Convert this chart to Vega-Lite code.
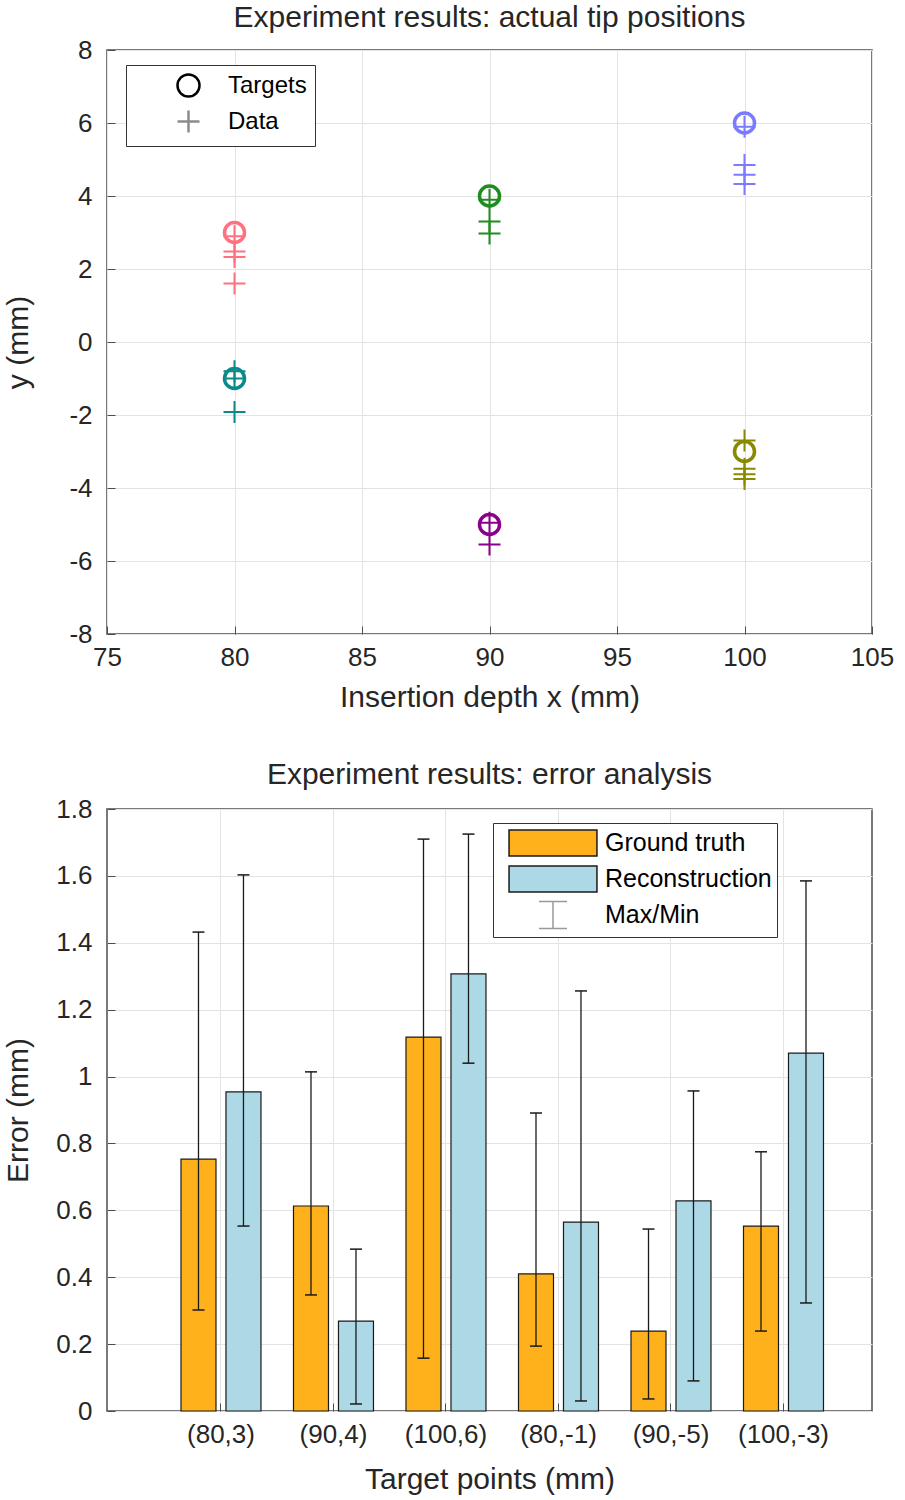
{
  "$schema": "https://vega.github.io/schema/vega-lite/v6.json",
  "background": "white",
  "padding": {"left": 3, "top": 2, "right": 5, "bottom": 5},
  "spacing": 46,
  "resolve": {
    "scale": {"shape": "independent", "stroke": "independent", "fill": "independent", "color": "independent"},
    "legend": {"shape": "independent", "stroke": "independent", "fill": "independent"}
  },
  "config": {
    "font": "Liberation Sans",
    "view": {"stroke": "#4d4d4d", "strokeWidth": 1.5},
    "axis": {
      "labelFont": "Liberation Sans",
      "labelFontSize": 26,
      "labelColor": "#262626",
      "titleFont": "Liberation Sans",
      "titleFontSize": 30,
      "titleFontWeight": "normal",
      "titleColor": "#262626",
      "gridColor": "#e3e3e3",
      "gridWidth": 1,
      "domain": false,
      "tickColor": "#4d4d4d",
      "tickSize": -8,
      "labelPadding": 18,
      "labelFlush": false,
      "labelOverlap": false
    },
    "axisY": {"labelPadding": 23},
    "title": {"font": "Liberation Sans", "fontSize": 30, "fontWeight": "normal", "color": "#262626"},
    "legend": {"labelFont": "Liberation Sans", "labelColor": "#000000", "strokeColor": "#333333", "fillColor": "#ffffff", "labelLimit": 400, "symbolOpacity": 1}
  },
  "vconcat": [
    {
      "title": {"text": "Experiment results: actual tip positions", "offset": 4},
      "width": 765,
      "height": 584,
      "data": {
        "values": [
          {"kind": "Targets", "target": "(80,3)", "x": 80, "y": 3},
          {"kind": "Targets", "target": "(90,4)", "x": 90, "y": 4},
          {"kind": "Targets", "target": "(100,6)", "x": 100, "y": 6},
          {"kind": "Targets", "target": "(80,-1)", "x": 80, "y": -1},
          {"kind": "Targets", "target": "(90,-5)", "x": 90, "y": -5},
          {"kind": "Targets", "target": "(100,-3)", "x": 100, "y": -3},
          {"kind": "Data", "target": "(80,3)", "x": 80, "y": 2.9},
          {"kind": "Data", "target": "(80,3)", "x": 80, "y": 2.48},
          {"kind": "Data", "target": "(80,3)", "x": 80, "y": 2.33},
          {"kind": "Data", "target": "(80,3)", "x": 80, "y": 1.6},
          {"kind": "Data", "target": "(90,4)", "x": 90, "y": 3.9},
          {"kind": "Data", "target": "(90,4)", "x": 90, "y": 3.3},
          {"kind": "Data", "target": "(90,4)", "x": 90, "y": 2.97},
          {"kind": "Data", "target": "(100,6)", "x": 100, "y": 5.9},
          {"kind": "Data", "target": "(100,6)", "x": 100, "y": 4.85},
          {"kind": "Data", "target": "(100,6)", "x": 100, "y": 4.58},
          {"kind": "Data", "target": "(100,6)", "x": 100, "y": 4.33},
          {"kind": "Data", "target": "(80,-1)", "x": 80, "y": -0.8},
          {"kind": "Data", "target": "(80,-1)", "x": 80, "y": -1.0},
          {"kind": "Data", "target": "(80,-1)", "x": 80, "y": -1.92},
          {"kind": "Data", "target": "(90,-5)", "x": 90, "y": -4.95},
          {"kind": "Data", "target": "(90,-5)", "x": 90, "y": -5.55},
          {"kind": "Data", "target": "(100,-3)", "x": 100, "y": -2.7},
          {"kind": "Data", "target": "(100,-3)", "x": 100, "y": -3.47},
          {"kind": "Data", "target": "(100,-3)", "x": 100, "y": -3.62},
          {"kind": "Data", "target": "(100,-3)", "x": 100, "y": -3.75}
        ]
      },
      "encoding": {
        "x": {
          "field": "x",
          "type": "quantitative",
          "scale": {"domain": [75, 105], "nice": false, "zero": false},
          "axis": {"title": "Insertion depth x (mm)", "values": [75, 80, 85, 90, 95, 100, 105], "titlePadding": 12}
        },
        "y": {
          "field": "y",
          "type": "quantitative",
          "scale": {"domain": [-8, 8], "nice": false, "zero": false},
          "axis": {"title": "y (mm)", "values": [-8, -6, -4, -2, 0, 2, 4, 6, 8], "labelExpr": "datum.value + ''", "titlePadding": 35}
        }
      },
      "layer": [
        {
          "transform": [{"filter": "datum.kind === 'Data'"}],
          "mark": {"type": "point", "shape": "M-1,0H1M0,-1V1", "filled": false, "strokeWidth": 2, "size": 484, "opacity": 1},
          "encoding": {
            "color": {
              "field": "target",
              "type": "nominal",
              "scale": {
                "domain": ["(80,3)", "(90,4)", "(100,6)", "(80,-1)", "(90,-5)", "(100,-3)"],
                "range": ["#ff7080", "#1e8c1e", "#7b7bff", "#0a8a8a", "#8a008a", "#8a8a00"]
              },
              "legend": null
            }
          }
        },
        {
          "transform": [{"filter": "datum.kind === 'Targets'"}],
          "mark": {"type": "point", "shape": "circle", "filled": false, "strokeWidth": 3.5, "size": 400, "opacity": 1},
          "encoding": {
            "color": {
              "field": "target",
              "type": "nominal",
              "scale": {
                "domain": ["(80,3)", "(90,4)", "(100,6)", "(80,-1)", "(90,-5)", "(100,-3)"],
                "range": ["#ff7080", "#1e8c1e", "#7b7bff", "#0a8a8a", "#8a008a", "#8a8a00"]
              },
              "legend": null
            }
          }
        },
        {
          "mark": {"type": "point", "filled": false, "opacity": 0, "size": 484},
          "encoding": {
            "shape": {
              "field": "kind",
              "type": "nominal",
              "scale": {"domain": ["Targets", "Data"], "range": ["circle", "M-1,0H1M0,-1V1"]},
              "legend": {
                "title": null,
                "orient": "none",
                "legendX": 19,
                "legendY": 15,
                "labelFontSize": 24,
                "labelExpr": "datum.label + '\u00a0\u00a0\u00a0'",
                "padding": 8,
                "symbolSize": 484,
                "symbolOffset": 42,
                "labelOffset": 27,
                "rowPadding": 3,
                "symbolStrokeWidth": 2.5,
                "symbolOpacity": 1
              }
            },
            "stroke": {
              "field": "kind",
              "type": "nominal",
              "scale": {"domain": ["Targets", "Data"], "range": ["#000000", "#8c8c8c"]},
              "legend": {
                "title": null,
                "orient": "none",
                "legendX": 19,
                "legendY": 15,
                "labelFontSize": 24,
                "labelExpr": "datum.label + '\u00a0\u00a0\u00a0'",
                "padding": 8,
                "symbolSize": 484,
                "symbolOffset": 42,
                "labelOffset": 27,
                "rowPadding": 3,
                "symbolStrokeWidth": 2.5,
                "symbolOpacity": 1
              }
            }
          }
        }
      ]
    },
    {
      "title": {"text": "Experiment results: error analysis", "offset": 6},
      "width": 765,
      "height": 602,
      "data": {
        "values": [
          {"target": "(80,3)", "series": "Ground truth", "value": 0.753, "min": 0.302, "max": 1.432},
          {"target": "(90,4)", "series": "Ground truth", "value": 0.613, "min": 0.347, "max": 1.014},
          {"target": "(100,6)", "series": "Ground truth", "value": 1.118, "min": 0.158, "max": 1.71},
          {"target": "(80,-1)", "series": "Ground truth", "value": 0.41, "min": 0.194, "max": 0.891},
          {"target": "(90,-5)", "series": "Ground truth", "value": 0.239, "min": 0.036, "max": 0.544},
          {"target": "(100,-3)", "series": "Ground truth", "value": 0.553, "min": 0.239, "max": 0.775},
          {"target": "(80,3)", "series": "Reconstruction", "value": 0.954, "min": 0.553, "max": 1.603},
          {"target": "(90,4)", "series": "Reconstruction", "value": 0.269, "min": 0.021, "max": 0.484},
          {"target": "(100,6)", "series": "Reconstruction", "value": 1.307, "min": 1.04, "max": 1.725},
          {"target": "(80,-1)", "series": "Reconstruction", "value": 0.565, "min": 0.03, "max": 1.256},
          {"target": "(90,-5)", "series": "Reconstruction", "value": 0.628, "min": 0.09, "max": 0.957},
          {"target": "(100,-3)", "series": "Reconstruction", "value": 1.07, "min": 0.323, "max": 1.585}
        ]
      },
      "encoding": {
        "x": {
          "field": "target",
          "type": "nominal",
          "sort": ["(80,3)", "(90,4)", "(100,6)", "(80,-1)", "(90,-5)", "(100,-3)"],
          "scale": {"paddingInner": 0.289, "paddingOuter": 0.5444, "align": 0.604},
          "axis": {"title": "Target points (mm)", "labelAngle": 0, "grid": true, "titlePadding": 17}
        },
        "xOffset": {
          "field": "series",
          "type": "nominal",
          "sort": ["Ground truth", "Reconstruction"],
          "scale": {"paddingInner": 0.222, "paddingOuter": 0}
        }
      },
      "layer": [
        {
          "mark": {"type": "bar", "stroke": "#1a1a1a", "strokeWidth": 1.2},
          "encoding": {
            "y": {
              "field": "value",
              "type": "quantitative",
              "scale": {"domain": [0, 1.8], "nice": false},
              "axis": {"title": "Error (mm)", "values": [0, 0.2, 0.4, 0.6, 0.8, 1, 1.2, 1.4, 1.6, 1.8], "format": "~g", "titlePadding": 22}
            },
            "fill": {
              "field": "series",
              "type": "nominal",
              "scale": {"domain": ["Ground truth", "Reconstruction", "Max/Min"], "range": ["#ffb11b", "#add8e6", "#ffffff"]}
            }
          }
        },
        {
          "mark": {"type": "rule", "color": "#1a1a1a", "strokeWidth": 1.3},
          "encoding": {
            "y": {"field": "min", "type": "quantitative"},
            "y2": {"field": "max"}
          }
        },
        {
          "mark": {"type": "tick", "color": "#1a1a1a", "thickness": 1.5, "size": 12, "opacity": 1},
          "encoding": {"y": {"field": "min", "type": "quantitative"}}
        },
        {
          "mark": {"type": "tick", "color": "#1a1a1a", "thickness": 1.5, "size": 12, "opacity": 1},
          "encoding": {"y": {"field": "max", "type": "quantitative"}}
        },
        {
          "mark": {"type": "point", "filled": true, "opacity": 0},
          "encoding": {
            "y": {"field": "value", "type": "quantitative"},
            "fill": {
              "field": "series",
              "type": "nominal",
              "scale": {"domain": ["Ground truth", "Reconstruction", "Max/Min"], "range": ["#ffb11b", "#add8e6", "#ffffff"]},
              "legend": {
                "title": null, "orient": "none", "legendX": 386, "legendY": 14, "labelFontSize": 25,
                "labelExpr": "datum.label + '\u00a0'", "padding": 5, "symbolSize": 784, "symbolOffset": 40,
                "labelOffset": 37, "rowPadding": 2, "symbolStrokeWidth": 1.5, "symbolOpacity": 1
              }
            },
            "shape": {
              "field": "series",
              "type": "nominal",
              "scale": {"domain": ["Ground truth", "Reconstruction", "Max/Min"], "range": ["M-3.14,-0.93H3.14V0.93H-3.14Z", "M-3.14,-0.93H3.14V0.93H-3.14Z", "M-1,-0.96H1M0,-0.96V0.96M-1,0.96H1"]},
              "legend": {
                "title": null, "orient": "none", "legendX": 386, "legendY": 14, "labelFontSize": 25,
                "labelExpr": "datum.label + '\u00a0'", "padding": 5, "symbolSize": 784, "symbolOffset": 40,
                "labelOffset": 37, "rowPadding": 2, "symbolStrokeWidth": 1.5, "symbolOpacity": 1
              }
            },
            "stroke": {
              "field": "series",
              "type": "nominal",
              "scale": {"domain": ["Ground truth", "Reconstruction", "Max/Min"], "range": ["#1a1a1a", "#1a1a1a", "#999999"]},
              "legend": {
                "title": null, "orient": "none", "legendX": 386, "legendY": 14, "labelFontSize": 25,
                "labelExpr": "datum.label + '\u00a0'", "padding": 5, "symbolSize": 784, "symbolOffset": 40,
                "labelOffset": 37, "rowPadding": 2, "symbolStrokeWidth": 1.5, "symbolOpacity": 1
              }
            }
          }
        }
      ]
    }
  ]
}
